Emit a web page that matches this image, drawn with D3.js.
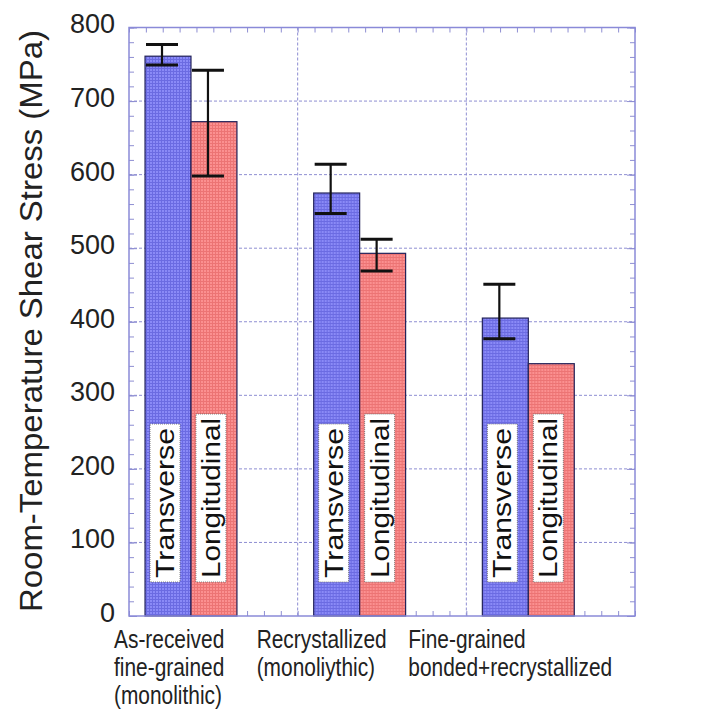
<!DOCTYPE html>
<html><head><meta charset="utf-8">
<script src="https://cdn.jsdelivr.net/npm/d3@7"></script>
<style>html,body{margin:0;padding:0;background:#fff;}svg{display:block;}</style>
</head><body>
<script>
// ---- data ----
const categories = ["As-received fine-grained (monolithic)", "Recrystallized (monoliythic)", "Fine-grained bonded+recrystallized"];
const categoryLines = [["As-received", "fine-grained", "(monolithic)"], ["Recrystallized", "(monoliythic)"], ["Fine-grained", "bonded+recrystallized"]];
const series = ["Transverse", "Longitudinal"];
const transverse = [761, 575, 405];
const longitudinal = [672, 493, 343];
const transverseErrLow = [749, 547, 377];
const transverseErrHigh = [777, 614, 451];
const longitudinalErrLow = [598, 469, null];
const longitudinalErrHigh = [742, 512, null];
const yTicks = [0, 100, 200, 300, 400, 500, 600, 700, 800];
const yTitle = "Room-Temperature Shear Stress (MPa)";

// ---- layout ----
const W = 717, H = 717;
const L = 129, R = 635, T = 27.5, B = 616;
const labelOffsets = [-15, -41, -58];

const svg = d3.select("body").append("svg").attr("width", W).attr("height", H);
const defs = svg.append("defs");
function mkPattern(id, base, line) {
  const p = defs.append("pattern").attr("id", id).attr("patternUnits", "userSpaceOnUse")
    .attr("width", 3).attr("height", 3);
  p.append("rect").attr("width", 3).attr("height", 3).attr("fill", base);
  p.append("rect").attr("x", 0).attr("y", 2).attr("width", 3).attr("height", 1).attr("fill", line);
  p.append("rect").attr("x", 2).attr("y", 0).attr("width", 1).attr("height", 3).attr("fill", line);
}
mkPattern("patBlue", "#8a8af7", "#6b6be2");
mkPattern("patRed", "#fb9090", "#ec7474");
const fills = {Transverse: "url(#patBlue)", Longitudinal: "url(#patRed)"};

const x0 = d3.scaleBand().domain(categories).range([L, R]).paddingInner(0).paddingOuter(0);
const bw = x0.bandwidth();
const x1 = d3.scaleBand().domain(series).range([0.095 * bw, 0.64 * bw]).padding(0);
const y = d3.scaleLinear().domain([0, 800]).range([B, T]);
const xm = d3.scaleLinear().domain([0, 30]).range([L, R]);

const gridColor = "#8e8ed2";
// gridlines
const grid = svg.append("g");
grid.selectAll("line.h").data(yTicks.filter(v => v > 0 && v < 800)).join("line")
  .attr("x1", L).attr("x2", R).attr("y1", d => y(d)).attr("y2", d => y(d))
  .attr("stroke", gridColor).attr("stroke-width", 1).attr("stroke-dasharray", "3,2");
grid.selectAll("line.v").data(categories.slice(1)).join("line")
  .attr("x1", d => x0(d)).attr("x2", d => x0(d)).attr("y1", T).attr("y2", B)
  .attr("stroke", gridColor).attr("stroke-width", 1).attr("stroke-dasharray", "3,2");

// minor ticks
const minorY = d3.range(0, 801, 20);
const minorX = d3.range(0, 31, 1);
function styleTicks(g) {
  g.select(".domain").remove();
  g.selectAll("line").attr("stroke", gridColor).attr("stroke-width", 1);
  g.selectAll("text").remove();
}
svg.append("g").attr("transform", `translate(${L},0)`)
  .call(d3.axisLeft(y).tickValues(minorY).tickSize(-5).tickFormat("")).call(styleTicks);
svg.append("g").attr("transform", `translate(${R},0)`)
  .call(d3.axisRight(y).tickValues(minorY).tickSize(-5).tickFormat("")).call(styleTicks);
svg.append("g").attr("transform", `translate(${L},0)`)
  .call(d3.axisLeft(y).tickValues(yTicks).tickSize(-8).tickFormat("")).call(styleTicks);
svg.append("g").attr("transform", `translate(${R},0)`)
  .call(d3.axisRight(y).tickValues(yTicks).tickSize(-8).tickFormat("")).call(styleTicks);
svg.append("g").attr("transform", `translate(0,${T})`)
  .call(d3.axisTop(xm).tickValues(minorX).tickSize(-5).tickFormat("")).call(styleTicks);
svg.append("g").attr("transform", `translate(0,${B})`)
  .call(d3.axisBottom(xm).tickValues(minorX).tickSize(-5).tickFormat("")).call(styleTicks);

// bars
const rows = categories.map((c, i) => ({
  cat: c,
  vals: [
    {s: "Transverse", v: transverse[i], lo: transverseErrLow[i], hi: transverseErrHigh[i]},
    {s: "Longitudinal", v: longitudinal[i], lo: longitudinalErrLow[i], hi: longitudinalErrHigh[i]}
  ]
}));
const gBars = svg.append("g");
const groups = gBars.selectAll("g.grp").data(rows).join("g").attr("class", "grp")
  .attr("transform", d => `translate(${x0(d.cat)},0)`);
groups.selectAll("rect.bar").data(d => d.vals).join("rect").attr("class", "bar")
  .attr("x", d => x1(d.s)).attr("width", x1.bandwidth())
  .attr("y", d => y(d.v)).attr("height", d => y(0) - y(d.v))
  .attr("fill", d => fills[d.s]).attr("stroke", "#23235a").attr("stroke-width", 1.2);

// in-bar labels
groups.each(function(d) {
  const g = d3.select(this);
  d.vals.forEach(v => {
    const cx = x1(v.s) + x1.bandwidth() / 2 + 6;
    const lg = g.append("g").attr("transform", `translate(${cx},${y(0) - 38}) rotate(-90)`);
    const rect = lg.append("rect").attr("fill", "#fff").attr("stroke", "#666").attr("stroke-width", 0.8).attr("stroke-dasharray", "1,1");
    const t = lg.append("text").text(v.s).attr("x", 0).attr("y", 0)
      .attr("font-family", "Liberation Sans, Arial, sans-serif").attr("font-size", 25)
      .attr("fill", "#111")
      .attr("textLength", v.s === "Transverse" ? 150 : 160).attr("lengthAdjust", "spacingAndGlyphs");
    const bb = t.node().getBBox();
    rect.attr("x", bb.x - 4).attr("y", bb.y - 1).attr("width", bb.width + 8).attr("height", bb.height + 2);
  });
});

// error bars
const errColor = "#111";
groups.each(function(d) {
  const g = d3.select(this);
  d.vals.filter(v => v.lo != null).forEach(v => {
    const cx = x1(v.s) + x1.bandwidth() / 2 - 6;
    g.append("line").attr("x1", cx).attr("x2", cx).attr("y1", y(v.hi)).attr("y2", y(v.lo))
      .attr("stroke", errColor).attr("stroke-width", 2.2);
    [v.hi, v.lo].forEach(e => {
      g.append("line").attr("x1", cx - 16).attr("x2", cx + 16).attr("y1", y(e)).attr("y2", y(e))
        .attr("stroke", errColor).attr("stroke-width", 3);
    });
  });
});

// frame
svg.append("rect").attr("x", L).attr("y", T).attr("width", R - L).attr("height", B - T)
  .attr("fill", "none").attr("stroke", "#8a8ad8").attr("stroke-width", 1.5);

// y tick labels
const yAx = svg.append("g").attr("transform", `translate(${L},0)`)
  .call(d3.axisLeft(y).tickValues(yTicks).tickSize(0).tickPadding(14).tickFormat(d3.format("d")));
yAx.select(".domain").remove();
yAx.selectAll("text").attr("font-family", "Liberation Sans, Arial, sans-serif").attr("font-size", 27)
  .attr("fill", "#222").attr("dy", "0.2em");

// y title
svg.append("text").text(yTitle)
  .attr("transform", `translate(42,${(30 + 612) / 2}) rotate(-90)`)
  .attr("text-anchor", "middle").attr("font-family", "Liberation Sans, Arial, sans-serif")
  .attr("font-size", 31).attr("fill", "#222")
  .attr("textLength", 582).attr("lengthAdjust", "spacingAndGlyphs");

// category labels
categories.forEach((c, i) => {
  const gx = x0(c) + labelOffsets[i];
  const tg = svg.append("g").attr("transform", `translate(${gx},648) scale(0.82,1)`);
  categoryLines[i].forEach((ln, j) => {
    tg.append("text").text(ln).attr("x", 0).attr("y", j * 28)
      .attr("font-family", "Liberation Sans, Arial, sans-serif").attr("font-size", 25.5).attr("fill", "#222");
  });
});
</script>
</body></html>
